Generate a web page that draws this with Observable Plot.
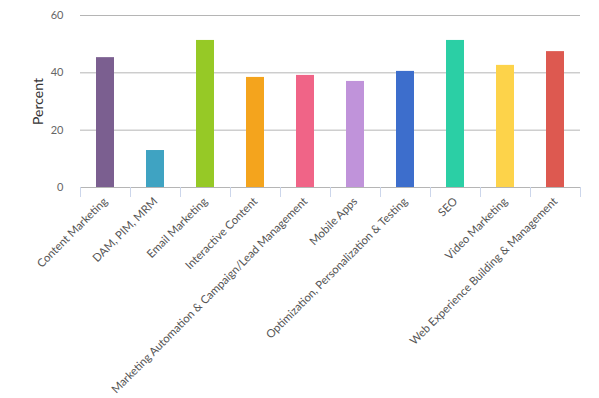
<!DOCTYPE html>
<html>
<head>
<meta charset="utf-8">
<script src="https://cdn.jsdelivr.net/npm/d3@7"></script>
<script src="https://cdn.jsdelivr.net/npm/@observablehq/plot@0.6"></script>
<style>
  html, body { margin: 0; padding: 0; background: #fff; }
  #chart svg { display: block; }
</style>
</head>
<body>
<div id="chart"></div>
<script>
const categories = [
  "Content Marketing",
  "DAM, PIM, MRM",
  "Email Marketing",
  "Interactive Content",
  "Marketing Automation & Campaign/Lead Management",
  "Mobile Apps",
  "Optimization, Personalization & Testing",
  "SEO",
  "Video Marketing",
  "Web Experience Building & Management"
];
const values = [45.3, 12.9, 51.3, 38.4, 39.1, 37.0, 40.5, 51.3, 42.6, 47.4];
const colors = ["#7B5F90", "#3FA3C2", "#96C926", "#F4A41D", "#F06487", "#C093DA", "#3D6ECC", "#2BCFA5", "#FDD34A", "#DD5950"];
const yTicks = [0, 20, 40, 60];
const yLabel = "Percent";

const data = categories.map((c, i) => ({category: c, value: values[i], color: colors[i]}));
const last = categories[categories.length - 1];

const chart = Plot.plot({
  width: 599,
  height: 398,
  marginLeft: 80,
  marginRight: 19,
  marginTop: 15,
  marginBottom: 211,
  style: {fontFamily: "Lato, sans-serif", background: "#fff"},
  x: {domain: categories, padding: 0, label: null},
  y: {domain: [0, 60], label: null},
  marks: [
    Plot.ruleY(yTicks.filter(d => d > 0), {stroke: "#b5b5b5", strokeWidth: 1}),
    Plot.barY(data, {x: "category", y: "value", fill: "color", insetLeft: 16, insetRight: 16}),
    Plot.ruleY([0], {stroke: "#b5b5b5", strokeWidth: 1}),
    Plot.ruleX(categories, {x: d => d, dx: -25, y1: 0, y2: 0, insetBottom: -10, stroke: "#ccd6eb"}),
    Plot.ruleX([last], {x: d => d, dx: 25, y1: 0, y2: 0, insetBottom: -10, stroke: "#ccd6eb"}),
    Plot.axisY({
      ticks: yTicks, tickSize: 0, tickPadding: 17,
      fontSize: 11, color: "#666",
      label: yLabel, labelAnchor: "center", labelArrow: "none", labelOffset: 47
    }),
    Plot.axisX({
      tickSize: 0, tickRotate: -45, tickPadding: 12,
      fontSize: 11.3, color: "#555", label: null
    })
  ]
});

// style the y-axis label
d3.select(chart).selectAll("g[aria-label='y-axis label'] text")
  .attr("font-size", 14).attr("fill", "#333");

document.getElementById("chart").appendChild(chart);
</script>
</body>
</html>
